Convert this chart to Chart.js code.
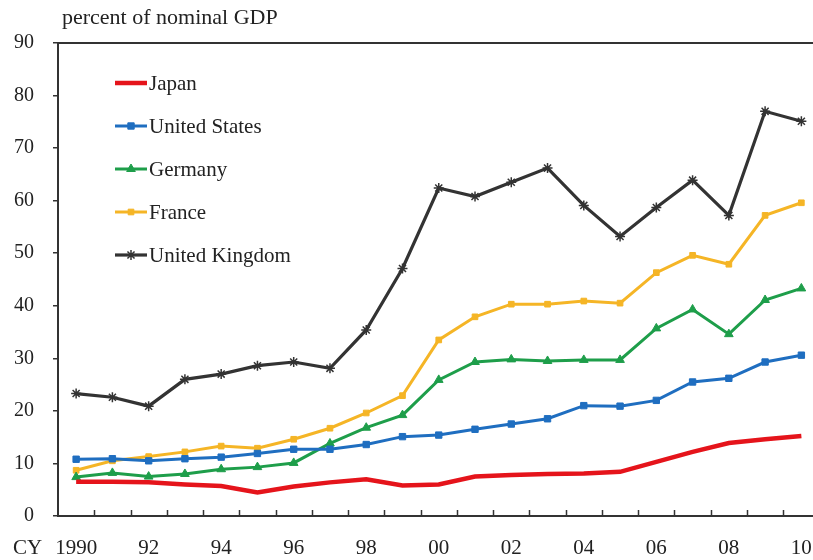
<!DOCTYPE html>
<html>
<head>
<meta charset="utf-8">
<script src="https://cdn.jsdelivr.net/npm/chart.js@4.4.0/dist/chart.umd.min.js"></script>
<style>
html, body { margin: 0; padding: 0; background: #fff; }
#wrap { width: 813px; height: 560px; overflow: hidden; position: relative; }
canvas { display: block; }
</style>
</head>
<body>
<div id="wrap"><canvas id="debt-chart" width="826" height="560"></canvas></div>
<script>
//
// Government debt, percent of nominal GDP
//

var years = ['1990', '1991', '1992', '1993', '1994', '1995', '1996', '1997', '1998', '1999', '2000',
	'2001', '2002', '2003', '2004', '2005', '2006', '2007', '2008', '2009', '2010'];

var japan   = [6.5, 6.5, 6.4, 6.0, 5.7, 4.5, 5.6, 6.4, 7.0, 5.8, 6.0, 7.5, 7.8, 8.0, 8.1, 8.4, 10.3, 12.2, 13.9, 14.6, 15.2];
var usa     = [10.8, 10.9, 10.5, 10.9, 11.2, 11.9, 12.7, 12.7, 13.6, 15.1, 15.4, 16.5, 17.5, 18.5, 21.0, 20.9, 22.0, 25.5, 26.2, 29.3, 30.6];
var germany = [7.4, 8.2, 7.5, 8.0, 8.9, 9.3, 10.1, 13.8, 16.8, 19.2, 25.9, 29.3, 29.8, 29.5, 29.7, 29.7, 35.7, 39.3, 34.6, 41.1, 43.3];
var france  = [8.7, 10.5, 11.3, 12.2, 13.3, 12.9, 14.6, 16.7, 19.6, 22.9, 33.5, 37.9, 40.3, 40.3, 40.9, 40.5, 46.3, 49.6, 47.9, 57.2, 59.6];
var uk      = [23.3, 22.6, 20.9, 26.0, 27.0, 28.6, 29.3, 28.1, 35.4, 47.1, 62.4, 60.8, 63.5, 66.2, 59.1, 53.2, 58.7, 63.9, 57.2, 77.0, 75.1];

var yTicks = [0, 10, 20, 30, 40, 50, 60, 70, 80, 90];

var serif = '"Liberation Serif", "DejaVu Serif", serif';
var axisColor = '#333';
var textColor = '#222';

// Title, top border, inner x ticks and legend
var decor = {
	id: 'decor',
	afterDraw: function(chart) {
		var ctx = chart.ctx;
		var area = chart.chartArea;
		var x = chart.scales.x;

		ctx.save();
		ctx.strokeStyle = axisColor;
		ctx.lineWidth = 2;
		ctx.beginPath();
		ctx.moveTo(area.left, area.top);
		ctx.lineTo(area.right, area.top);
		ctx.stroke();

		// x tick marks pointing up into the plot
		ctx.lineWidth = 1.5;
		for (var i = 1; i < years.length; i++) {
			var px = Math.round((x.getPixelForValue(i - 1) + x.getPixelForValue(i)) / 2) + 0.5;
			ctx.beginPath();
			ctx.moveTo(px, area.bottom);
			ctx.lineTo(px, area.bottom - 6);
			ctx.stroke();
		}

		ctx.fillStyle = textColor;
		ctx.font = '22px ' + serif;
		ctx.textBaseline = 'middle';
		ctx.textAlign = 'left';
		ctx.fillText('percent of nominal GDP', 62, 18);

		ctx.font = '21px ' + serif;
		ctx.fillText('CY', 13, 548);

		// legend
		chart.data.datasets.forEach(function(ds, k) {
			var ly = 83 + k * 43;
			ctx.strokeStyle = ds.borderColor;
			ctx.lineWidth = ds.borderWidth;
			ctx.beginPath();
			ctx.moveTo(115, ly);
			ctx.lineTo(147, ly);
			ctx.stroke();
			if (ds.pointRadius > 0) {
				ctx.fillStyle = ds.borderColor;
				ctx.lineWidth = ds.pointBorderWidth || 1;
				Chart.helpers.drawPoint(ctx, {
					pointStyle: ds.pointStyle,
					radius: ds.pointRadius,
					rotation: 0,
					borderWidth: ds.pointBorderWidth || 1
				}, 131, ly);
			}
			ctx.fillStyle = textColor;
			ctx.fillText(ds.label, 149, ly + 1);
		});
		ctx.restore();
	}
};

function series(label, data, color, style, radius, width) {
	return {
		label: label,
		data: data,
		borderColor: color,
		backgroundColor: color,
		borderWidth: width,
		pointStyle: style,
		pointRadius: radius,
		pointBorderWidth: style === 'star' ? 1.5 : 1,
		pointBackgroundColor: color,
		pointBorderColor: color,
		tension: 0
	};
}

var chart = new Chart(document.getElementById('debt-chart'), {
	type: 'line',
	data: {
		labels: years,
		datasets: [
			series('Japan', japan, '#e5141b', 'circle', 0, 4.5),
			series('United States', usa, '#1f6ec0', 'rect', 4.5, 3),
			series('Germany', germany, '#1e9e4a', 'triangle', 5, 3),
			series('France', france, '#f5b526', 'rect', 4, 3),
			series('United Kingdom', uk, '#333333', 'star', 5, 3.2)
		]
	},
	options: {
		responsive: false,
		animation: false,
		layout: { padding: { top: 43, left: 0, right: 0, bottom: 0 } },
		plugins: {
			legend: { display: false },
			tooltip: { enabled: false }
		},
		scales: {
			x: {
				offset: true,
				grid: { display: true, drawOnChartArea: false, drawTicks: true, tickLength: 20, color: 'rgba(0,0,0,0)' },
				border: { display: true, color: axisColor, width: 2 },
				ticks: {
					autoSkip: false,
					maxRotation: 0,
					padding: 0,
					color: textColor,
					font: { family: serif, size: 21 },
					callback: function(v, i) {
						if (i % 2) return '';
						return i === 0 ? years[i] : years[i].slice(2);
					}
				},
				afterFit: function(scale) { scale.height = 44; }
			},
			y: {
				min: 0,
				max: 90,
				afterBuildTicks: function(scale) {
					scale.ticks = yTicks.map(function(v) { return { value: v }; });
				},
				grid: { drawOnChartArea: false, drawTicks: true, tickLength: 5, color: axisColor, lineWidth: 1.5 },
				border: { display: true, color: axisColor, width: 2 },
				ticks: {
					padding: 19,
					color: textColor,
					font: { family: serif, size: 20 }
				},
				afterFit: function(scale) { scale.width = 58; }
			}
		}
	},
	plugins: [decor]
});
</script>
</body>
</html>
